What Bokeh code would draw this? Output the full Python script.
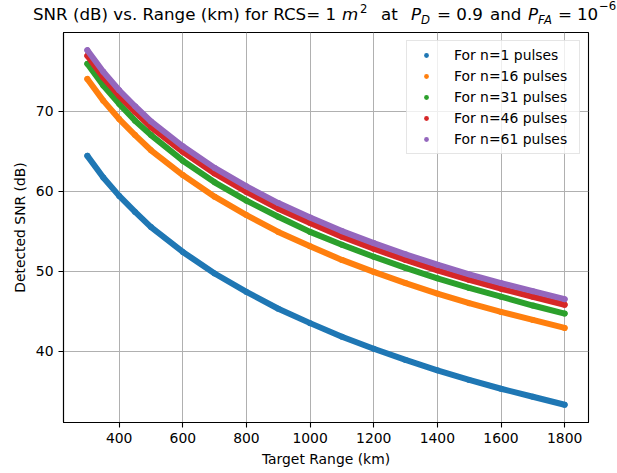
from bokeh.plotting import figure
from bokeh.models import Range1d, Legend, LegendItem, FixedTicker, Div
from bokeh.layouts import column
from bokeh.embed import file_html
from bokeh.resources import INLINE

# Data (range in km, detected SNR in dB)
ranges_km = [300, 350, 400, 450, 500, 600, 700, 800, 900, 1000,
             1100, 1200, 1300, 1400, 1500, 1600, 1700, 1800]
snr_n1 = [64.4, 61.7, 59.4, 57.4, 55.5, 52.4, 49.7, 47.4, 45.3, 43.5,
          41.8, 40.3, 38.9, 37.6, 36.4, 35.3, 34.3, 33.3]
snr_n16 = [74.0, 71.3, 69.0, 67.0, 65.1, 62.0, 59.3, 57.0, 54.9, 53.1,
           51.4, 49.9, 48.5, 47.2, 46.0, 44.9, 43.9, 42.9]
snr_n31 = [75.9, 73.2, 70.9, 68.8, 67.0, 63.8, 61.1, 58.8, 56.8, 54.9,
           53.3, 51.8, 50.4, 49.1, 47.9, 46.8, 45.7, 44.7]
snr_n46 = [76.9, 74.2, 71.9, 69.9, 68.0, 64.9, 62.2, 59.9, 57.8, 56.0,
           54.3, 52.8, 51.4, 50.1, 48.9, 47.8, 46.8, 45.8]
snr_n61 = [77.6, 74.9, 72.6, 70.6, 68.7, 65.6, 62.9, 60.6, 58.5, 56.7,
           55.0, 53.5, 52.1, 50.8, 49.6, 48.5, 47.5, 46.5]
series_labels = ["For n=1 pulses", "For n=16 pulses", "For n=31 pulses",
                 "For n=46 pulses", "For n=61 pulses"]
series_values = [snr_n1, snr_n16, snr_n31, snr_n46, snr_n61]
colors = ["#1f77b4", "#ff7f0e", "#2ca02c", "#d62728", "#9467bd"]
x_ticks = [400, 600, 800, 1000, 1200, 1400, 1600, 1800]
y_ticks = [40, 50, 60, 70]

FONT = "DejaVu Sans"

xmin, xmax = min(ranges_km), max(ranges_km)
allv = [v for s in series_values for v in s]
ymin, ymax = min(allv), max(allv)
xm = 0.05 * (xmax - xmin)
ym = 0.05 * (ymax - ymin)

TITLE_H = 31
p = figure(width=617, height=473 - TITLE_H, output_backend="svg",
           toolbar_location=None, title=None,
           x_range=Range1d(xmin - xm, xmax + xm),
           y_range=Range1d(ymin - ym, ymax + ym),
           min_border_left=63, min_border_right=29,
           min_border_top=1, min_border_bottom=51)
p.background_fill_color = "white"
p.border_fill_color = "white"
p.outline_line_color = "black"
p.outline_line_width = 1.1

items = []
for lab, vals, col in zip(series_labels, series_values, colors):
    p.line(ranges_km, vals, line_color=col, line_width=6,
           line_cap="round", line_join="round")
    r = p.scatter(ranges_km, vals, size=6, fill_color=col, line_color=None)
    items.append(LegendItem(label=lab, renderers=[r]))

for ax in (p.xaxis[0], p.yaxis[0]):
    ax.axis_line_color = "black"
    ax.axis_line_width = 1.1
    ax.major_tick_line_color = "black"
    ax.major_tick_line_width = 1.1
    ax.major_tick_out = 5
    ax.major_tick_in = 0
    ax.minor_tick_line_color = None
    ax.major_label_text_font = FONT
    ax.major_label_text_font_size = "13.9px"
    ax.major_label_text_color = "black"
    ax.axis_label_text_font = FONT
    ax.axis_label_text_font_size = "13.9px"
    ax.axis_label_text_font_style = "normal"
    ax.axis_label_text_color = "black"
    ax.major_label_standoff = 5

p.xaxis[0].ticker = FixedTicker(ticks=x_ticks)
p.yaxis[0].ticker = FixedTicker(ticks=y_ticks)
p.xaxis[0].axis_label = "Target Range (km)"
p.yaxis[0].axis_label = "Detected SNR (dB)"
p.xaxis[0].axis_label_standoff = 5
p.yaxis[0].axis_label_standoff = 5

p.grid.grid_line_color = "#b0b0b0"
p.grid.grid_line_width = 1

legend = Legend(items=items, location="top_right")
legend.margin = 8
legend.padding = 4
legend.spacing = 1
legend.label_height = 20
legend.label_width = 121
legend.glyph_height = 12
legend.glyph_width = 30
legend.label_standoff = 13
legend.label_text_font = FONT
legend.label_text_font_size = "13.9px"
legend.label_text_color = "black"
legend.border_line_color = "#cccccc"
legend.border_line_width = 1
legend.background_fill_color = "white"
legend.background_fill_alpha = 0.8
p.add_layout(legend)

# Title with math-like formatting (italic, sub- and superscripts) as real text
pieces = [
    ("SNR (dB) vs. Range (km) for RCS= 1", 33, 20, 16.7, "normal"),
    ("m", 342, 20, 16.7, "italic"),
    ("2", 360, 12.5, 11.7, "normal"),
    ("at", 381, 20, 16.7, "normal"),
    ("P", 411, 20, 16.7, "italic"),
    ("D", 421, 24, 11.7, "italic"),
    ("= 0.9", 437, 20, 16.7, "normal"),
    ("and", 490, 20, 16.7, "normal"),
    ("P", 528, 20, 16.7, "italic"),
    ("FA", 538, 24, 11.7, "italic"),
    ("=", 558, 20, 16.7, "normal"),
    ("10", 577, 20, 16.7, "normal"),
    ("\u22126", 599, 10, 11.7, "normal"),
]
svg_texts = "".join(
    f'<text x="{x}" y="{y}" fill="black" xml:space="preserve" '
    f'style="font-family:\'DejaVu Sans\' !important;font-size:{fs}px !important;'
    f'font-style:{st} !important;font-weight:normal !important;'
    f'white-space:pre">{t}</text>'
    for t, x, y, fs, st in pieces)
title_svg = (f'<svg xmlns="http://www.w3.org/2000/svg" width="617" '
             f'height="{TITLE_H}" style="display:block;overflow:visible">'
             f'{svg_texts}</svg>')
title_div = Div(text=title_svg, width=617, height=TITLE_H, margin=0,
                styles={"background-color": "white",
                        "font-family": "'DejaVu Sans'"})

layout = column(title_div, p, spacing=0)
open("out.html", "w").write(file_html(layout, INLINE))
